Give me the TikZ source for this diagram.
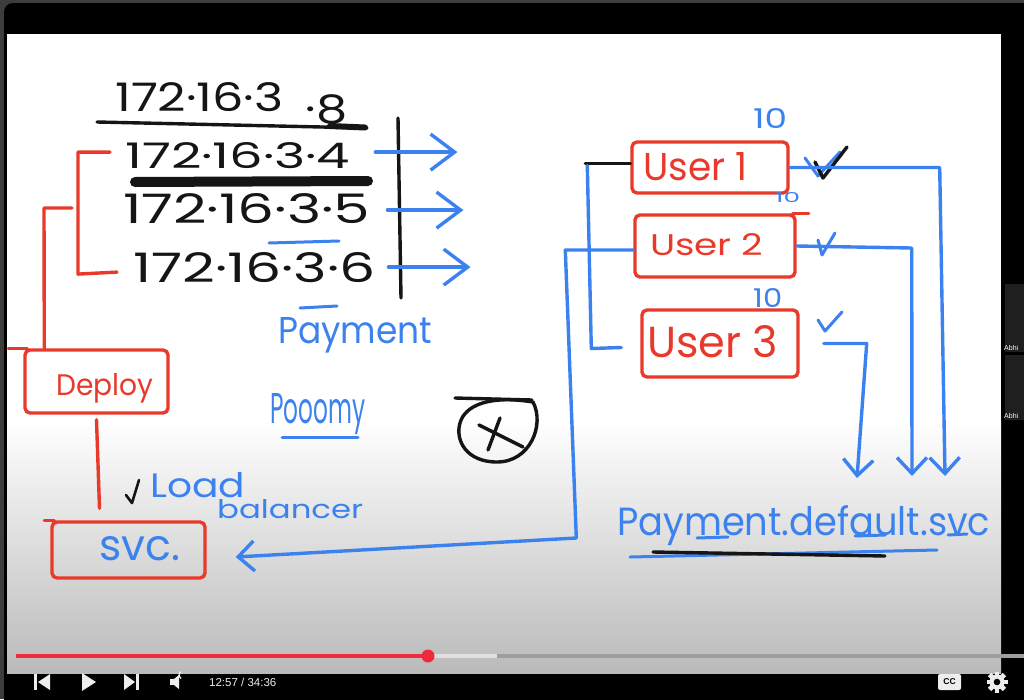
\documentclass[tikz,border=0pt]{standalone}
\usepackage{fontspec}
\setmainfont{Poppins}
\newfontfamily\uifont{Liberation Sans}
\usepackage{graphicx}
\usetikzlibrary{arrows.meta}
\definecolor{hred}{HTML}{E8392B}
\definecolor{hblue}{HTML}{3C82EE}
\definecolor{hblack}{HTML}{151515}
\definecolor{ytred}{HTML}{EE2A3C}
\definecolor{uigray}{HTML}{3D3D3D}
\newcommand{\fitbox}[3]{\resizebox{#1pt}{#2pt}{#3}}
\tikzset{
  pen/.style={line width=3.4pt, line cap=round, line join=round},
  rpen/.style={pen, draw=hred},
  bpen/.style={pen, draw=hblue},
  kpen/.style={pen, draw=hblack},
  rbox/.style={rpen, rectangle, rounded corners=5pt, inner sep=0pt},
  txt/.style={inner sep=0pt, anchor=base west},
  rtxt/.style={txt, text=hred},
  btxt/.style={txt, text=hblue},
  ktxt/.style={txt, text=hblack},
  barb/.style={-{Straight Barb[length=24pt,width=36pt]}},
  sbarb/.style={-{Straight Barb[length=16pt,width=30pt]}},
  ui/.style={fill=white!93!black},
}
\begin{document}
\begin{tikzpicture}[x=1pt,y=-1pt]
\useasboundingbox (0,0) rectangle (1024,699);
\clip (0,0) rectangle (1024,699);
% ---------- player frame ----------
\fill[uigray] (0,0) rectangle (1024,699);
\fill[black, rounded corners=9pt] (4,3) rectangle (1040,720);
\fill[white] (7,34) rectangle (1001,420);
\shade[top color=white, bottom color=black!27] (7,420) rectangle (1001,673);
% participant tiles
\fill[black!88] (1005,284) rectangle (1024,352);
\fill[black!88] (1005,355) rectangle (1024,420);
\node[text=white, font=\uifont\fontsize{7}{7}\selectfont, anchor=west, inner sep=0] (abhi1) at (1004,348) {Abhi};
\node[text=white, font=\uifont\fontsize{7}{7}\selectfont, anchor=west, inner sep=0] (abhi2) at (1004,416) {Abhi};
% progress bar
\draw[line width=3.5pt, black!38] (497,656) -- (1024,656);
\draw[line width=3.5pt, black!12] (428,656) -- (497,656);
\draw[line width=3.5pt, ytred] (16,656) -- (428,656);
\fill[ytred] (428,656) circle (6.5);
% controls
\fill[ui] (34,674) rectangle (37,690);
\fill[ui] (50,674) -- (38,682) -- (50,690) -- cycle;
\fill[ui] (82,673) -- (96,682) -- (82,691) -- cycle;
\fill[ui] (124,674) -- (135,682) -- (124,690) -- cycle;
\fill[ui] (136,674) rectangle (139,690);
\fill[ui] (170,679) rectangle (174,685);
\fill[ui] (174,679) -- (179,675) -- (179,689) -- (174,685) -- cycle;
\draw[white!93!black, line width=1.4pt] (181,678.5) arc (-60:60:-4);
\node[text=white!93!black, font=\uifont\fontsize{11.5}{11.5}\selectfont, anchor=west, inner sep=0] (time) at (209,682) {12:57 / 34:36};
\fill[ui, rounded corners=2pt] (938,674) rectangle (961,690);
\node[text=black, font=\uifont\bfseries\fontsize{8.5}{8.5}\selectfont, inner sep=0] (cc) at (949.5,682) {CC};
\fill[ui] (997,682) circle (7.5);
\foreach \a in {0,45,...,315}
  \fill[ui, rotate around={\a:(997,682)}] (994.6,671.5) rectangle (999.4,676);
\fill[black] (997,682) circle (3.3);
% ---------- whiteboard drawing ----------
% IP list
\node[ktxt] (ip8) at (115,111) {\fitbox{232}{29}{172·16·3\hspace{0.45em}.\raisebox{-0.32em}{8}}};
\draw[kpen] (97,122) -- (367,128);
\draw[kpen, line width=6pt] (330,126) -- (365,127.5);
\node[ktxt] (ip4) at (125,168) {\fitbox{225}{26}{172·16·3·4}};
\draw[kpen, line width=10pt] (135,182) -- (368,181);
\node[ktxt] (ip5) at (123,223) {\fitbox{247}{30}{172·16·3·5}};
\draw[bpen, line width=3pt] (269,243) -- (339,241);
\node[ktxt] (ip6) at (133,282) {\fitbox{242}{30}{172·16·3·6}};
\draw[kpen] (398,118) -- (401,298);
% blue arrows from the list
\draw[bpen, barb] ([xshift=25pt,yshift=3pt]ip4.east) -- ++(82,0);
\draw[bpen, barb] ([xshift=17pt,yshift=-2pt]ip5.east) -- ++(76,0);
\draw[bpen, barb] ([xshift=13pt,yshift=0pt]ip6.east) -- ++(82,0);
% red brackets
\draw[rpen] ([xshift=-15pt,yshift=3pt]ip4.west) -- ++(-32,0) -- ++(0,122) -- ([xshift=-16pt,yshift=-5pt]ip6.west);
\coordinate (brk) at (72,208);
% Deploy box
\node[rbox, minimum width=143pt, minimum height=63pt] (deploy) at (96.5,381.5) {};
\draw[rpen] ([xshift=4pt]deploy.north west) -- ++(-19,0);
\node[rtxt] (deploylbl) at (56,395) {\fitbox{97}{22}{Deploy}};
\draw[rpen] (brk) -- ++(-28,0) -- ([xshift=21pt]deploy.north west);
% svc box
\node[rbox, minimum width=153pt, minimum height=56pt] (svc) at (128.5,550) {};
\draw[rpen] ([xshift=4pt]svc.north west) -- ++(-10,0);
\node[btxt] (svclbl) at (99,560) {\fitbox{81}{24}{svc.}};
\draw[rpen] ([yshift=-5pt]deploy.south) -- ([xshift=3pt,yshift=12pt]svc.north -| deploy.south);
% Load balancer
\draw[kpen, line width=2.6pt] (126,495) -- (132,503) -- (139,480);
\node[btxt] (load) at (150,497) {\fitbox{95}{25}{Load}};
\node[btxt] (balancer) at (217,518) {\fitbox{146}{19}{balancer}};
% Payment / Pooomy
\node[btxt] (payment) at (278,343) {\fitbox{154}{26}{Payment}};
\draw[bpen, line width=3pt] (300,308) -- (337,306);
\node[btxt] (pooomy) at (270,423) {\fitbox{95}{30}{Pooomy}};
\draw[bpen, line width=3pt] (282,437) -- (358,437);
% circled X
\draw[kpen] (455,398) -- (532,400);
\draw[kpen] (533,402) .. controls (545,425) and (530,462) .. (497,462)
  .. controls (466,462) and (455,440) .. (460,423)
  .. controls (465,405) and (490,395) .. (533,402);
\draw[kpen] (479,425) -- (523,447);
\draw[kpen] (500,418) -- (488,450);
% User boxes
\node[rbox, minimum width=156pt, minimum height=51pt] (user1) at (710,167.5) {};
\node[rtxt] (user1lbl) at (643,180) {\fitbox{104}{28}{User 1}};
\node[rbox, minimum width=160pt, minimum height=62pt] (user2) at (715,246) {};
\draw[rpen] ([xshift=-4pt]user2.north east) -- ++(16,0);
\node[rtxt] (user2lbl) at (650,255) {\fitbox{113}{22}{User 2}};
\node[rbox, minimum width=156pt, minimum height=67pt] (user3) at (720,343.5) {};
\node[rtxt] (user3lbl) at (647,357) {\fitbox{131}{32}{User 3}};
% replica counts
\node[btxt] (n1) at (753,128) {\fitbox{34}{20}{10}};
\node[btxt] (n2) at (775,202) {\fitbox{25}{10}{10}};
\node[btxt] (n3) at (753,307) {\fitbox{29}{19}{10}};
% checks
\draw[bpen, line width=3pt] (805,158) -- (818,176) -- (840,152);
\draw[kpen] (815,162) -- (823,178) -- (847,147);
\draw[bpen, line width=3pt] (818,240) -- (822,255) -- (835,233);
\draw[bpen, line width=3pt] (818,320) -- (825,331) -- (842,312);
% left-side connectors
\draw[kpen] ([yshift=4pt]user1.west) -- ++(-45,0) coordinate (stub);
\draw[bpen] (stub) ++(2,2) -- ++(4,183) -- ([xshift=-19pt,yshift=-4pt]user3.west);
\draw[bpen, sbarb] ([yshift=-4pt]user2.west) -- ++(-68,0) -- ++(11,288) -- ([xshift=29pt,yshift=-7pt]svc.east);
% Payment.default.svc
\node[btxt] (pds) at (617,535) {\fitbox{373}{30}{Payment.default.svc}};
\draw[bpen, line width=3pt] (630,557) -- (937,550);
\draw[kpen] (653,552) -- (885,556);
\draw[bpen, line width=3pt] (697,538) -- (728,537);
\draw[bpen, line width=3pt] (855,536) -- (885,535);
\draw[bpen, line width=3pt] (948,535) -- (967,534);
% right-side connectors to the service
\coordinate (a1) at (945,476);
\coordinate (a2) at (912,476);
\coordinate (a3) at (857,478);
\draw[bpen, sbarb] (user1.east) -- ++(150,0) -- (a1);
\draw[bpen, sbarb] (user2.east) -- ++(115,2) -- (a2);
\draw[bpen, sbarb] ([xshift=24pt]user3.east) -- ++(43,0) -- (a3);
\end{tikzpicture}
\end{document}
